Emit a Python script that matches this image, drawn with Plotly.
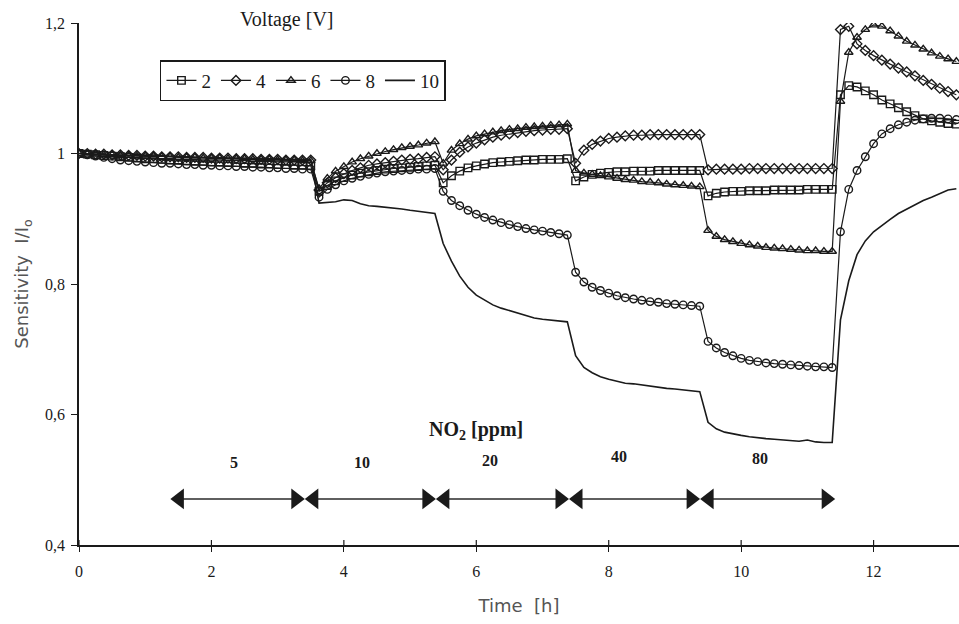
import plotly.graph_objects as go

# ---------------- data ----------------
# sampling grid (hours), one sample every 7.5 min
time_h = [round(0.125 * i, 3) for i in range(107)]

voltage_labels = ["2", "4", "6", "8", "10"]

sens_2V = [
    1.000, 0.999, 0.998, 0.997, 0.996, 0.995, 0.994, 0.993, 0.992, 0.992, 0.991, 0.990, 0.990, 0.989, 0.988,
    0.988, 0.987, 0.987, 0.986, 0.986, 0.985, 0.985, 0.984, 0.984, 0.983, 0.983, 0.982, 0.982, 0.981,
    0.942, 0.951, 0.958, 0.963, 0.967, 0.970, 0.972, 0.974, 0.976, 0.977, 0.978, 0.979, 0.980, 0.981, 0.982,
    0.955, 0.966, 0.973, 0.978, 0.981, 0.984, 0.986, 0.987, 0.988, 0.989, 0.990, 0.990, 0.991, 0.991, 0.991, 0.992,
    0.958, 0.964, 0.968, 0.970, 0.971, 0.972, 0.972, 0.973, 0.973, 0.973, 0.974, 0.974, 0.974, 0.974, 0.974, 0.974,
    0.935, 0.939, 0.941, 0.942, 0.942, 0.943, 0.943, 0.943, 0.944, 0.944, 0.944, 0.944, 0.945, 0.945, 0.945, 0.945,
    1.090, 1.104, 1.102, 1.096, 1.090, 1.082, 1.076, 1.070, 1.064, 1.058, 1.053, 1.050, 1.048, 1.046, 1.045,
]

sens_4V = [
    1.000, 1.000, 0.999, 0.999, 0.998, 0.998, 0.997, 0.997, 0.996, 0.996, 0.995, 0.995, 0.995, 0.994, 0.994,
    0.994, 0.993, 0.993, 0.993, 0.992, 0.992, 0.992, 0.991, 0.991, 0.991, 0.990, 0.990, 0.990, 0.990,
    0.944, 0.955, 0.963, 0.969, 0.974, 0.978, 0.982, 0.984, 0.986, 0.988, 0.990, 0.991, 0.992, 0.994, 0.995,
    0.975, 0.990, 1.002, 1.010, 1.016, 1.021, 1.025, 1.028, 1.030, 1.032, 1.034, 1.035, 1.036, 1.037, 1.037, 1.038,
    0.985, 1.005, 1.014, 1.019, 1.023, 1.025, 1.027, 1.028, 1.028, 1.029, 1.029, 1.029, 1.029, 1.029, 1.029, 1.029,
    0.975, 0.976, 0.976, 0.976, 0.976, 0.977, 0.977, 0.977, 0.977, 0.977, 0.977, 0.977, 0.977, 0.977, 0.977, 0.977,
    1.190, 1.195, 1.168, 1.158, 1.150, 1.143, 1.137, 1.131, 1.125, 1.119, 1.112, 1.106, 1.100, 1.095, 1.090,
]

sens_6V = [
    1.000, 0.999, 0.999, 0.998, 0.998, 0.997, 0.997, 0.996, 0.996, 0.996, 0.995, 0.995, 0.994, 0.994, 0.994,
    0.993, 0.993, 0.993, 0.992, 0.992, 0.992, 0.991, 0.991, 0.991, 0.990, 0.990, 0.990, 0.989, 0.989,
    0.946, 0.962, 0.973, 0.980, 0.987, 0.992, 0.996, 1.000, 1.003, 1.006, 1.009, 1.011, 1.013, 1.016, 1.018,
    0.985, 1.005, 1.015, 1.022, 1.027, 1.030, 1.033, 1.035, 1.037, 1.038, 1.040, 1.041, 1.042, 1.043, 1.044, 1.045,
    0.974, 0.970, 0.968, 0.966, 0.964, 0.962, 0.960, 0.959, 0.957, 0.956, 0.955, 0.953, 0.952, 0.951, 0.950, 0.949,
    0.882, 0.873, 0.868, 0.865, 0.862, 0.860, 0.858, 0.856, 0.855, 0.854, 0.853, 0.852, 0.851, 0.851, 0.850, 0.850,
    1.080, 1.155, 1.178, 1.190, 1.197, 1.195, 1.188, 1.180, 1.172, 1.166, 1.160, 1.154, 1.149, 1.145, 1.141,
]

sens_8V = [
    1.000, 0.998, 0.996, 0.994, 0.992, 0.990, 0.989, 0.988, 0.987, 0.986, 0.985, 0.985, 0.984, 0.983, 0.983,
    0.982, 0.982, 0.981, 0.981, 0.980, 0.980, 0.979, 0.979, 0.978, 0.978, 0.977, 0.977, 0.976, 0.976,
    0.933, 0.945, 0.952, 0.958, 0.962, 0.965, 0.968, 0.970, 0.972, 0.973, 0.974, 0.975, 0.976, 0.976, 0.977,
    0.942, 0.928, 0.920, 0.913, 0.907, 0.902, 0.898, 0.894, 0.891, 0.888, 0.885, 0.883, 0.881, 0.879, 0.877, 0.875,
    0.818, 0.803, 0.795, 0.790, 0.786, 0.782, 0.779, 0.777, 0.775, 0.773, 0.772, 0.770, 0.769, 0.768, 0.767, 0.766,
    0.712, 0.702, 0.695, 0.690, 0.686, 0.683, 0.681, 0.679, 0.678, 0.677, 0.676, 0.675, 0.674, 0.673, 0.673, 0.672,
    0.880, 0.945, 0.974, 0.995, 1.015, 1.030, 1.038, 1.044, 1.048, 1.051, 1.053, 1.054, 1.054, 1.053, 1.052,
]

sens_10V = [
    1.000, 0.999, 0.999, 0.998, 0.998, 0.997, 0.997, 0.997, 0.996, 0.996, 0.996, 0.995, 0.995, 0.995, 0.994,
    0.994, 0.994, 0.993, 0.993, 0.993, 0.993, 0.992, 0.992, 0.992, 0.992, 0.991, 0.991, 0.991, 0.991,
    0.924, 0.925, 0.926, 0.929, 0.928, 0.923, 0.920, 0.919, 0.918, 0.917, 0.915, 0.913, 0.911, 0.909, 0.908,
    0.862, 0.835, 0.812, 0.795, 0.783, 0.775, 0.768, 0.763, 0.759, 0.755, 0.751, 0.748, 0.746, 0.745, 0.743, 0.742,
    0.690, 0.672, 0.664, 0.658, 0.654, 0.651, 0.648, 0.647, 0.645, 0.644, 0.642, 0.640, 0.639, 0.638, 0.636, 0.635,
    0.588, 0.578, 0.573, 0.570, 0.568, 0.566, 0.564, 0.563, 0.562, 0.561, 0.560, 0.559, 0.561, 0.558, 0.557, 0.557,
    0.745, 0.805, 0.845, 0.866, 0.880, 0.890, 0.899, 0.908, 0.915, 0.921, 0.928, 0.933, 0.938, 0.944, 0.946,
]

# NO2 exposure steps (hours) and concentrations
no2_bounds_h = [1.38, 3.41, 5.39, 7.40, 9.38, 11.42]
no2_ppm = ["5", "10", "20", "40", "80"]
no2_label_t = [2.34, 4.27, 6.21, 8.16, 10.29]
no2_label_v = [0.526, 0.526, 0.530, 0.535, 0.532]
no2_arrow_v = 0.4706

x_ticks = [0, 2, 4, 6, 8, 10, 12]
y_ticks = [0.4, 0.6, 0.8, 1.0, 1.2]
y_ticktext = ["0,4", "0,6", "0,8", "1", "1,2"]

# ---------------- figure ----------------
INK = "#1a1a1a"
SERIF = "Liberation Serif"
SANS = "DejaVu Sans"

W, H = 959, 624
M = dict(l=79, r=0, t=23, b=79)
X_RANGE = [0, 13.29]
plot_h_px = H - M["t"] - M["b"]
px_per_hour = (W - M["l"] - M["r"]) / (X_RANGE[1] - X_RANGE[0])

series = [sens_2V, sens_4V, sens_6V, sens_8V, sens_10V]
symbols = ["square-open", "diamond-open", "triangle-up-open", "circle-open", None]

fig = go.Figure()
for name, vals, sym in zip(voltage_labels, series, symbols):
    assert len(vals) == len(time_h)
    if sym is None:
        fig.add_trace(go.Scatter(x=time_h, y=vals, name=name, mode="lines",
                                 line=dict(color=INK, width=1.6)))
    else:
        fig.add_trace(go.Scatter(x=time_h, y=vals, name=name, mode="lines+markers",
                                 line=dict(color=INK, width=1.2),
                                 marker=dict(symbol=sym, size=7.5, color=INK,
                                             line=dict(color=INK, width=1.4))))

# double-headed arrows for the NO2 steps (triangle tips placed on the step limits)
HEAD = 18  # marker size in px
tip_offset_h = (HEAD / 2) / px_per_hour
for i in range(len(no2_ppm)):
    fig.add_trace(go.Scatter(
        x=[no2_bounds_h[i] + tip_offset_h, no2_bounds_h[i + 1] - tip_offset_h],
        y=[no2_arrow_v, no2_arrow_v], mode="lines+markers", showlegend=False, hoverinfo="skip",
        line=dict(color="#2a2a2a", width=1.5),
        marker=dict(symbol=["triangle-left", "triangle-right"], size=HEAD, color="#1a1a1a",
                    line=dict(width=0))))

annotations = []
for i in range(len(no2_ppm)):
    annotations.append(dict(
        x=no2_label_t[i], y=no2_label_v[i], xref="x", yref="y", text="<b>%s</b>" % no2_ppm[i],
        showarrow=False, font=dict(family=SERIF, size=16, color=INK)))

annotations.append(dict(x=6.0, y=0.576, xref="x", yref="y", text="<b>NO<sub>2</sub> [ppm]</b>",
                        showarrow=False, font=dict(family=SERIF, size=20, color=INK)))
annotations.append(dict(x=0.236, y=1.006, xref="paper", yref="paper", xanchor="center",
                        yanchor="middle", text="Voltage [V]",
                        showarrow=False, font=dict(family=SERIF, size=20, color=INK)))

# upward half of the crossing x-axis tick marks
tick_up = 5 / plot_h_px
shapes = [dict(type="line", xref="x", yref="y domain", x0=t, x1=t, y0=0, y1=tick_up,
               line=dict(color=INK, width=1.2)) for t in x_ticks]

fig.update_layout(
    width=W, height=H,
    margin=M,
    plot_bgcolor="white", paper_bgcolor="white",
    annotations=annotations,
    shapes=shapes,
    legend=dict(orientation="h", x=0.092, y=0.929, xanchor="left", yanchor="top",
                bordercolor=INK, borderwidth=1.5, bgcolor="white",
                font=dict(family=SERIF, size=19, color=INK), itemwidth=30,
                tracegroupgap=0),
    xaxis=dict(range=X_RANGE, tickvals=x_ticks, ticks="outside", ticklen=5, tickwidth=1.2,
               tickcolor=INK, showline=True, linecolor=INK, linewidth=1.5,
               showgrid=False, zeroline=False, ticklabelstandoff=6,
               tickfont=dict(family=SERIF, size=16, color=INK),
               title=dict(text="Time&nbsp;&nbsp;[h]", font=dict(family=SANS, size=18, color="#555"),
                          standoff=20)),
    yaxis=dict(range=[0.4, 1.2], tickvals=y_ticks, ticktext=y_ticktext, ticks="outside",
               ticklen=6, tickwidth=1.2, tickcolor=INK, showline=True, linecolor=INK,
               linewidth=1.5, showgrid=False, zeroline=False, ticklabelstandoff=3,
               tickfont=dict(family=SERIF, size=16, color=INK),
               title=dict(text="Sensitivity&nbsp;&nbsp;I/I<sub>o</sub>",
                          font=dict(family=SANS, size=18, color="#555"), standoff=12)),
)

fig.write_html("out.html")
